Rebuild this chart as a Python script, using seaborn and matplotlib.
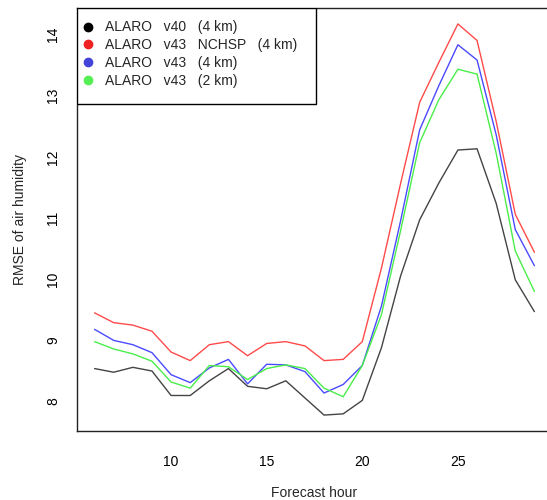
import numpy as np
import pandas as pd
import matplotlib
matplotlib.use("Agg")
import matplotlib.pyplot as plt
from matplotlib.lines import Line2D
from matplotlib.patches import Rectangle
import seaborn as sns

hours = list(range(6, 30))
alaro_v40_4km = [8.54, 8.48, 8.56, 8.50, 8.10, 8.10, 8.34, 8.54, 8.25, 8.21, 8.34, 8.06,
                 7.78, 7.80, 8.02, 8.88, 10.05, 10.97, 11.57, 12.11, 12.13, 11.24, 9.99, 9.47]
alaro_v43_nchsp_4km = [9.45, 9.29, 9.25, 9.15, 8.81, 8.67, 8.93, 8.98, 8.75, 8.95, 8.98, 8.91,
                       8.67, 8.69, 8.98, 10.18, 11.56, 12.89, 13.54, 14.17, 13.90, 12.58, 11.06, 10.44]
alaro_v43_4km = [9.18, 9.00, 8.93, 8.80, 8.44, 8.31, 8.55, 8.69, 8.29, 8.61, 8.60, 8.49,
                 8.14, 8.28, 8.59, 9.56, 10.95, 12.44, 13.16, 13.83, 13.58, 12.36, 10.81, 10.22]
alaro_v43_2km = [8.98, 8.86, 8.78, 8.66, 8.32, 8.22, 8.59, 8.57, 8.36, 8.54, 8.60, 8.54,
                 8.22, 8.08, 8.59, 9.42, 10.79, 12.23, 12.93, 13.43, 13.35, 12.06, 10.46, 9.80]

labels = ["ALARO   v40   (4 km)", "ALARO   v43   NCHSP   (4 km)",
          "ALARO   v43   (4 km)", "ALARO   v43   (2 km)"]
series = [alaro_v40_4km, alaro_v43_nchsp_4km, alaro_v43_4km, alaro_v43_2km]
line_colors = ["#444444", "#ff4a4a", "#4a4aff", "#4aee4a"]
dot_colors = ["#000000", "#ee2222", "#4444d8", "#55ee55"]

df = pd.concat([pd.DataFrame({"hour": hours, "rmse": s, "model": lab})
                for s, lab in zip(series, labels)], ignore_index=True)

sns.set_theme(style="white")
plt.rcParams["font.family"] = ["Liberation Sans", "DejaVu Sans"]

fig = plt.figure(figsize=(5.47, 5.00), dpi=100)
ax = fig.add_axes([77/547, 69/500, 475/547, 423/500])

sns.lineplot(data=df, x="hour", y="rmse", hue="model", hue_order=labels,
             palette=dict(zip(labels, line_colors)), linewidth=1.0, ax=ax,
             legend=False, estimator=None)

ax.set_xlim(5.08, 29.92)
ax.set_ylim(7.52, 14.43)
ax.set_xticks([10, 15, 20, 25])
ax.set_xticklabels(["10", "15", "20", "25"])
ax.set_yticks(range(8, 15))
ax.set_yticklabels([str(v) for v in range(8, 15)], rotation=90, va="center")
ax.tick_params(direction="out", length=6, width=0.8, colors="#222222",
               labelsize=10, labelcolor="black")
ax.tick_params(axis="x", pad=11.5)
ax.tick_params(axis="y", pad=6)
for sp in ax.spines.values():
    sp.set_color("#222222")
    sp.set_linewidth(1.0)
ax.set_xlabel("Forecast hour", fontsize=10, labelpad=12)
ax.set_ylabel("RMSE of air humidity", fontsize=10, labelpad=14)

# legend frame (R-style box)
frame = Rectangle((0, 1 - 96/423), 239/475, 96/423, transform=ax.transAxes,
                  facecolor="white", edgecolor="black", linewidth=1.0, zorder=4)
ax.add_patch(frame)

handles = [Line2D([], [], marker="o", linestyle="none", color=c, markersize=6)
           for c in dot_colors]
leg = ax.legend(handles, labels, loc="upper left",
                bbox_to_anchor=(5/475, 1 - 12.5/423),
                borderaxespad=0, frameon=False, fontsize=10,
                handlelength=0.8, handletextpad=0.85, labelspacing=0.27,
                borderpad=0.0)
leg.set_zorder(5)

fig.savefig("out.png", dpi=100)
